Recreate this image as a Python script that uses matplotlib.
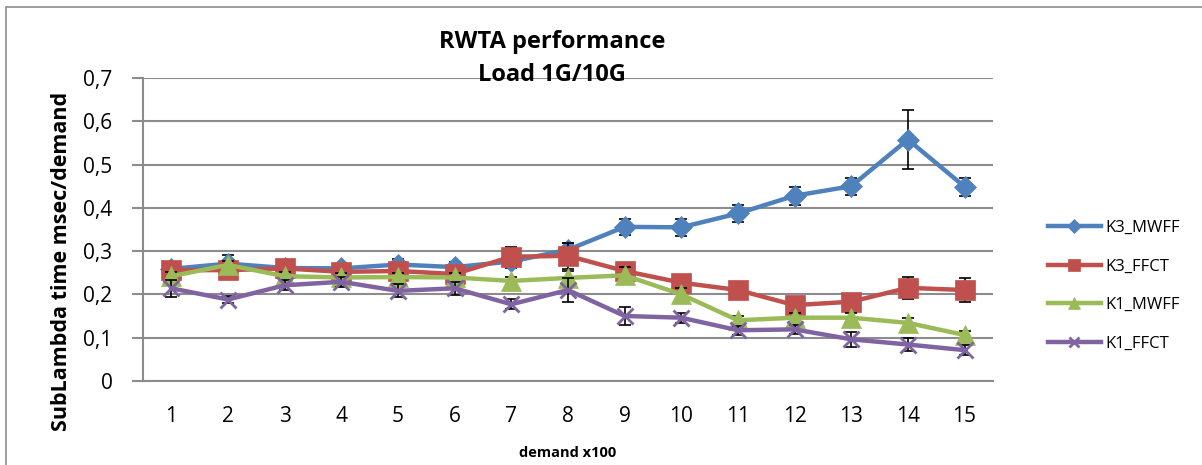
import matplotlib
matplotlib.use('Agg')
import matplotlib.pyplot as plt
from matplotlib.ticker import FuncFormatter
from matplotlib.patches import Rectangle

plt.rcParams['font.family'] = ['Open Sans', 'DejaVu Sans']

demand = list(range(1, 16))

k3_mwff = [0.259, 0.271, 0.261, 0.260, 0.269, 0.263, 0.276, 0.303, 0.356, 0.355, 0.387, 0.428, 0.450, 0.558, 0.449]
k3_mwff_err = [0.012, 0.020, 0.010, 0.010, 0.012, 0.012, 0.015, 0.016, 0.019, 0.019, 0.020, 0.021, 0.020, 0.068, 0.021]

k3_ffct = [0.256, 0.256, 0.260, 0.252, 0.254, 0.247, 0.287, 0.289, 0.254, 0.227, 0.210, 0.175, 0.183, 0.215, 0.210]
k3_ffct_err = [0.010, 0.010, 0.012, 0.010, 0.010, 0.010, 0.022, 0.030, 0.012, 0.010, 0.010, 0.010, 0.010, 0.026, 0.027]

k1_mwff = [0.242, 0.268, 0.242, 0.239, 0.240, 0.239, 0.231, 0.238, 0.244, 0.200, 0.140, 0.146, 0.146, 0.134, 0.106]
k1_mwff_err = [0.010, 0.010, 0.010, 0.010, 0.010, 0.010, 0.010, 0.015, 0.020, 0.015, 0.010, 0.010, 0.010, 0.012, 0.010]

k1_ffct = [0.214, 0.188, 0.221, 0.229, 0.208, 0.214, 0.177, 0.210, 0.150, 0.146, 0.117, 0.119, 0.096, 0.084, 0.071]
k1_ffct_err = [0.020, 0.008, 0.012, 0.012, 0.015, 0.015, 0.012, 0.027, 0.021, 0.012, 0.010, 0.010, 0.017, 0.015, 0.012]

series = [
    ('K3_MWFF', k3_mwff, k3_mwff_err, '#4F81BD', 'D', 11),
    ('K3_FFCT', k3_ffct, k3_ffct_err, '#C0504D', 's', 14),
    ('K1_MWFF', k1_mwff, k1_mwff_err, '#9BBB59', '^', 14),
    ('K1_FFCT', k1_ffct, k1_ffct_err, '#8064A2', 'x', 12),
]

fig = plt.figure(figsize=(12.02, 4.65), dpi=100)
# outer chart border (only top and left visible, rest is cut off)
fig.patches.append(Rectangle((6 / 1202, -0.1), 1.2, 1.1 - 7 / 465,
                             transform=fig.transFigure, fill=False,
                             edgecolor='#8c8c8c', linewidth=1.2))
ax = fig.add_axes([0.119, 0.181, 0.707, 0.651])

handles = []
for i, (name, vals, err, color, marker, ms) in enumerate(series):
    z = 3 + i * 0.1
    ax.errorbar(demand, vals, yerr=err, fmt='none', ecolor='black',
                elinewidth=1.2, capsize=4, capthick=1.2, zorder=z)
    h, = ax.plot(demand, vals, color=color, linewidth=3.2, marker=marker,
                 markersize=ms, markeredgewidth=2 if marker == 'x' else 0.5,
                 markeredgecolor=color, label=name, zorder=z + 0.05)
    handles.append(h)

ax.set_xlim(0.5, 15.5)
ax.set_ylim(0, 0.7)
ax.set_yticks([0, 0.1, 0.2, 0.3, 0.4, 0.5, 0.6, 0.7])
ax.set_xticks(demand)
ax.yaxis.set_major_formatter(FuncFormatter(lambda v, p: ('%g' % round(v, 1)).replace('.', ',')))
ax.grid(axis='y', color='#8c8c8c', linewidth=1.5, zorder=0)
ax.set_axisbelow(True)
for s in ['top', 'right']:
    ax.spines[s].set_visible(False)
ax.spines['left'].set_color('#8c8c8c')
ax.spines['left'].set_linewidth(1.5)
ax.spines['bottom'].set_color('#8c8c8c')
ax.spines['bottom'].set_linewidth(1.5)
ax.tick_params(axis='y', length=8, width=1.5, color='#8c8c8c', labelsize=15, pad=14)
ax.tick_params(axis='x', length=0, labelsize=15, pad=18)

ax.set_ylabel('SubLambda time msec/demand', fontsize=15.5, fontweight='bold')
ax.yaxis.set_label_coords(-0.084, 0.393)
ax.set_xlabel('demand x100', fontsize=10.5, fontweight='bold', labelpad=14)
fig.text(0.459, 0.91, 'RWTA performance', ha='center', va='center', fontsize=17, fontweight='bold')
fig.text(0.459, 0.838, 'Load 1G/10G', ha='center', va='center', fontsize=17, fontweight='bold')

leg = fig.legend(handles=handles, loc='center left', bbox_to_anchor=(0.859, 0.385),
                 frameon=False, fontsize=12, handlelength=3.2, labelspacing=1.35,
                 handletextpad=0.25, markerscale=0.65)

fig.savefig('out.png', dpi=100)
